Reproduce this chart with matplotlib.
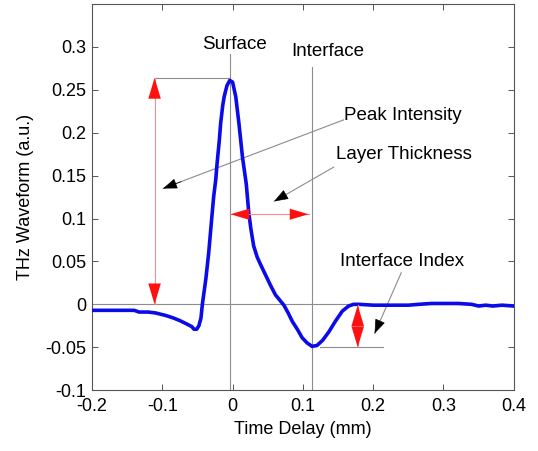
import matplotlib.pyplot as plt
import numpy as np

plt.rcParams['font.family'] = ['Liberation Sans', 'DejaVu Sans']

# waveform
delay = [-0.2, -0.17, -0.14, -0.133, -0.12, -0.11, -0.095, -0.084, -0.075, -0.065,
         -0.058, -0.055, -0.051, -0.048, -0.045, -0.043, -0.040, -0.038, -0.034, -0.031,
         -0.027, -0.024, -0.022, -0.019, -0.017, -0.014, -0.012, -0.008, -0.004, 0.0,
         0.0045, 0.009, 0.014, 0.0195, 0.023, 0.026, 0.030, 0.035, 0.040, 0.047,
         0.054, 0.061, 0.067, 0.073, 0.079, 0.085, 0.092, 0.099, 0.106, 0.113,
         0.12, 0.128, 0.137, 0.146, 0.156, 0.165, 0.172, 0.18, 0.2, 0.212,
         0.23, 0.25, 0.265, 0.283, 0.3, 0.321, 0.34, 0.35, 0.36, 0.37,
         0.383, 0.4]
wave = [-0.007, -0.007, -0.007, -0.009, -0.009, -0.010, -0.013, -0.016, -0.019, -0.023,
        -0.026, -0.029, -0.029, -0.025, -0.016, 0.0, 0.018, 0.030, 0.060, 0.088,
        0.125, 0.145, 0.165, 0.190, 0.211, 0.232, 0.242, 0.255, 0.261, 0.259,
        0.242, 0.211, 0.172, 0.140, 0.107, 0.088, 0.068, 0.055, 0.046, 0.034,
        0.022, 0.011, 0.005, -0.001, -0.010, -0.020, -0.029, -0.039, -0.045, -0.049,
        -0.048, -0.042, -0.032, -0.020, -0.008, -0.002, 0.0, 0.0, -0.001, -0.001,
        -0.001, -0.001, 0.0, 0.001, 0.001, 0.001, 0.0, -0.002, -0.001, -0.002,
        -0.001, -0.002]

surface_x = -0.003
interface_x = 0.113
peak_y = 0.264
dip_y = -0.05
amp_x = -0.111

xticks = [-0.2, -0.1, 0, 0.1, 0.2, 0.3, 0.4]
yticks = [-0.1, -0.05, 0, 0.05, 0.1, 0.15, 0.2, 0.25, 0.3]

fig = plt.figure(figsize=(5.38, 4.51), dpi=100)
ax = fig.add_axes([0.171, 0.135, 0.784, 0.856])

gray = '#8c8c8c'
# guide lines
ax.axhline(0, color=gray, lw=0.8)
ax.plot([surface_x, surface_x], [-0.1, 0.292], color=gray, lw=0.8)
ax.plot([interface_x, interface_x], [-0.1, 0.277], color=gray, lw=0.8)
ax.plot([amp_x, surface_x], [peak_y, peak_y], color=gray, lw=0.8)
ax.plot([0.124, 0.214], [dip_y, dip_y], color=gray, lw=0.8)

ax.plot(delay, wave, color='#0b0bea', lw=2.6, zorder=5)


# red double arrows: light thin shaft, solid heads
def red_arrow(p0, p1, frac=0.2, hl=1.5, hw=0.45):
    ax.plot([p0[0], p1[0]], [p0[1], p1[1]], color='#ff8a8a', lw=0.8, zorder=6)
    for a, b in ((p0, p1), (p1, p0)):
        back = (a[0] + frac * (b[0] - a[0]), a[1] + frac * (b[1] - a[1]))
        ax.annotate('', xy=a, xytext=back,
                    arrowprops=dict(arrowstyle='-|>,head_length=%s,head_width=%s' % (hl, hw),
                                    color='#ff1010', lw=0.01, shrinkA=0, shrinkB=0), zorder=7)


red_arrow((amp_x, 0.0), (amp_x, peak_y), frac=0.15)
red_arrow((surface_x, 0.105), (0.108, 0.105), frac=0.3, hl=1.35, hw=0.4)
red_arrow((0.178, -0.001), (0.178, dip_y), frac=0.45, hl=1.5, hw=0.45)


# text labels with pointer arrows
def pointer(start, tip):
    ax.annotate('', xy=tip, xytext=start,
                arrowprops=dict(arrowstyle='-', color=gray, lw=0.8, shrinkA=0, shrinkB=0))
    back = (tip[0] + 0.1 * (start[0] - tip[0]), tip[1] + 0.1 * (start[1] - tip[1]))
    ax.annotate('', xy=tip, xytext=back,
                arrowprops=dict(arrowstyle='-|>,head_length=0.9,head_width=0.33',
                                color='black', lw=0.5, shrinkA=0, shrinkB=0), zorder=7)


fs = 13
afs = 13.5
ax.text(0.002, 0.303, 'Surface', ha='center', va='center', fontsize=afs)
ax.text(0.136, 0.295, 'Interface', ha='center', va='center', fontsize=afs)
ax.text(0.159, 0.220, 'Peak Intensity', ha='left', va='center', fontsize=afs)
pointer((0.158, 0.215), (-0.099, 0.135))
ax.text(0.147, 0.175, 'Layer Thickness', ha='left', va='center', fontsize=afs)
pointer((0.144, 0.160), (0.059, 0.120))
ax.text(0.153, 0.050, 'Interface Index', ha='left', va='center', fontsize=afs)
pointer((0.240, 0.037), (0.202, -0.034))

ax.set_xlim(-0.2, 0.4)
ax.set_ylim(-0.1, 0.35)
ax.set_xticks(xticks)
ax.set_yticks(yticks)
ax.set_xticklabels(['-0.2', '-0.1', '0', '0.1', '0.2', '0.3', '0.4'])
ax.set_yticklabels(['-0.1', '-0.05', '0', '0.05', '0.1', '0.15', '0.2', '0.25', '0.3'])
ax.tick_params(direction='in', top=True, right=True, length=4, width=0.7,
               color='#555555', labelsize=fs)
ax.tick_params(axis='x', pad=6)
ax.tick_params(axis='y', pad=4)
for s in ax.spines.values():
    s.set_color('#555555')
    s.set_linewidth(0.8)

ax.set_xlabel('Time Delay (mm)', fontsize=fs, labelpad=4)
ax.set_ylabel('THz Waveform (a.u.)', fontsize=fs, labelpad=8)

fig.savefig('out.png', dpi=100)
